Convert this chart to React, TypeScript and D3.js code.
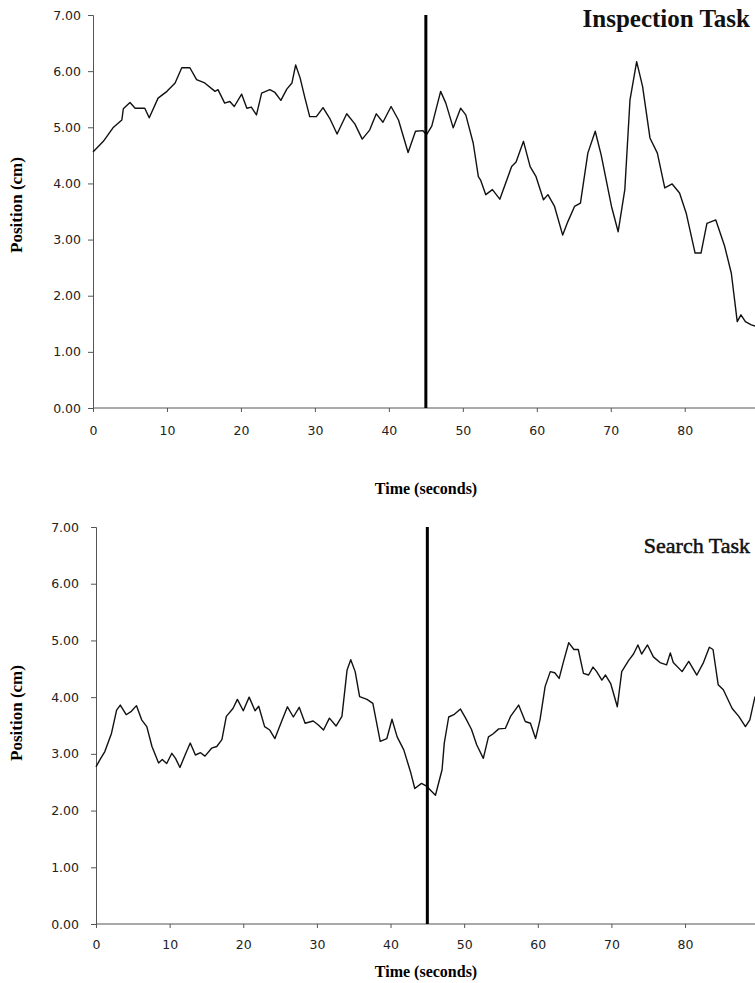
import React, { useEffect, useRef } from 'react';
import * as d3 from 'd3';

// Inspection task trace (seconds, cm)
const inspectionTime = [
  0, 1.4, 2.7, 3.9, 4.1, 5.0, 5.7, 7.0, 7.6, 8.8, 10.0, 11.1, 12.0, 13.1, 14.0, 15.1, 16.5, 16.9,
  17.8, 18.5, 19.1, 20.1, 20.8, 21.4, 22.1, 22.8, 23.9, 24.6, 25.4, 26.2, 26.9, 27.4, 28.0, 28.6,
  29.3, 30.2, 31.1, 32.0, 33.0, 34.3, 35.4, 36.4, 37.4, 38.3, 39.2, 40.3, 41.3, 42.6, 43.6, 44.6,
  45.1, 45.8, 47.0, 47.7, 48.7, 49.7, 50.4, 51.4, 52.1, 52.4, 53.1, 54.0, 55.0, 56.6, 57.2, 58.2,
  59.1, 59.9, 60.9, 61.5, 62.4, 63.5, 64.2, 65.1, 65.9, 66.9, 67.9, 68.7, 70.1, 71.0, 71.9, 72.6,
  73.5, 74.3, 75.3, 76.3, 77.3, 78.3, 79.3, 80.2, 81.4, 82.2, 83.0, 84.2, 85.4, 86.3, 87.1, 87.6,
  88.2, 89.0, 89.5,
];
const inspectionPos = [
  4.56, 4.75, 4.99, 5.13, 5.33, 5.44, 5.34, 5.34, 5.17, 5.52, 5.64, 5.79, 6.06, 6.06, 5.85, 5.79,
  5.64, 5.67, 5.43, 5.46, 5.37, 5.59, 5.34, 5.36, 5.22, 5.61, 5.67, 5.62, 5.48, 5.68, 5.79, 6.11,
  5.88, 5.55, 5.19, 5.19, 5.35, 5.16, 4.88, 5.24, 5.06, 4.79, 4.95, 5.24, 5.09, 5.37, 5.13, 4.55,
  4.93, 4.94, 4.87, 5.02, 5.64, 5.43, 4.99, 5.34, 5.22, 4.72, 4.12, 4.06, 3.80, 3.89, 3.72, 4.30,
  4.38, 4.75, 4.30, 4.12, 3.71, 3.80, 3.59, 3.08, 3.32, 3.59, 3.65, 4.54, 4.93, 4.51, 3.59, 3.14,
  3.89, 5.49, 6.17, 5.73, 4.81, 4.54, 3.92, 3.99, 3.83, 3.47, 2.76, 2.76, 3.29, 3.35, 2.88, 2.40,
  1.54, 1.66, 1.54, 1.48, 1.46,
];

// Search task trace (seconds, cm)
const searchTime = [
  0, 0.5, 1.2, 2.1, 2.8, 3.3, 4.1, 4.8, 5.5, 6.2, 6.9, 7.6, 8.5, 9.0, 9.6, 10.3, 10.8, 11.4, 12.1,
  12.8, 13.5, 14.2, 14.8, 15.7, 16.4, 17.1, 17.7, 18.6, 19.2, 20.0, 20.8, 21.6, 22.1, 22.9, 23.6,
  24.3, 25.2, 26.0, 26.8, 27.6, 28.4, 29.5, 30.2, 30.9, 31.7, 32.6, 33.4, 34.1, 34.6, 35.2, 35.8,
  36.8, 37.6, 38.6, 39.5, 40.2, 40.9, 41.8, 42.7, 43.3, 44.2, 44.9, 45.5, 46.1, 47.0, 47.3, 47.9,
  48.6, 49.5, 50.2, 51.0, 51.7, 52.6, 53.3, 53.9, 54.7, 55.6, 56.3, 57.4, 58.3, 59.0, 59.7, 60.3,
  61.0, 61.7, 62.3, 62.9, 63.5, 64.2, 64.9, 65.5, 66.2, 66.9, 67.5, 68.0, 68.7, 69.2, 69.9, 70.8,
  71.4, 72.3, 73.0, 73.6, 74.1, 74.9, 75.7, 76.6, 77.5, 78.0, 78.4, 79.6, 80.5, 81.6, 82.5, 83.3,
  83.8, 84.5, 85.2, 86.4, 87.3, 88.2, 88.8, 89.5,
];
const searchPos = [
  2.77, 2.89, 3.04, 3.36, 3.77, 3.86, 3.69, 3.75, 3.85, 3.60, 3.48, 3.13, 2.84, 2.90, 2.83, 3.01,
  2.92, 2.76, 2.98, 3.19, 2.98, 3.02, 2.96, 3.10, 3.13, 3.25, 3.66, 3.80, 3.96, 3.76, 4.00, 3.76,
  3.84, 3.48, 3.42, 3.27, 3.57, 3.83, 3.65, 3.82, 3.54, 3.58, 3.51, 3.42, 3.63, 3.49, 3.66, 4.48,
  4.66, 4.45, 4.01, 3.96, 3.89, 3.22, 3.27, 3.61, 3.30, 3.07, 2.69, 2.39, 2.48, 2.43, 2.35, 2.27,
  2.72, 3.19, 3.65, 3.69, 3.79, 3.63, 3.43, 3.16, 2.92, 3.30, 3.35, 3.44, 3.45, 3.66, 3.86, 3.57,
  3.54, 3.27, 3.60, 4.19, 4.45, 4.43, 4.33, 4.63, 4.96, 4.84, 4.84, 4.42, 4.39, 4.53, 4.45, 4.30,
  4.39, 4.24, 3.83, 4.45, 4.64, 4.76, 4.92, 4.76, 4.92, 4.71, 4.61, 4.57, 4.78, 4.61, 4.45, 4.63,
  4.39, 4.61, 4.88, 4.84, 4.22, 4.13, 3.80, 3.66, 3.48, 3.60, 4.01,
];

const yTicks = [0, 1, 2, 3, 4, 5, 6, 7];
const xTicks = [0, 10, 20, 30, 40, 50, 60, 70, 80];
const switchTime = 45;

const panels = [
  {
    title: 'Inspection Task', titleSize: 25, titleWeight: 'bold', titleY: 27,
    time: inspectionTime, pos: inspectionPos, left: 93, top: 15, bottom: 408,
    yPad: 7, xPad: 14, xLabelY: 494, yLabelY: 205,
  },
  {
    title: 'Search Task', titleSize: 22, titleWeight: 'normal', titleY: 553,
    time: searchTime, pos: searchPos, left: 96, top: 527, bottom: 924,
    yPad: 12, xPad: 12, xLabelY: 977, yLabelY: 713,
  },
];

const App = () => {
  const svgRef = useRef<SVGSVGElement>(null);

  useEffect(() => {
    const svg = d3.select(svgRef.current);
    svg.selectAll('*').remove();

    panels.forEach(p => {
      const x = d3.scaleLinear().domain([0, 89.5]).range([p.left, 755]);
      const y = d3.scaleLinear().domain([0, 7]).range([p.bottom, p.top]);
      const g = svg.append('g');

      const yAxis = g.append('g')
        .attr('transform', `translate(${p.left},0)`)
        .call(d3.axisLeft(y).tickValues(yTicks).tickFormat(d3.format('.2f')).tickSize(5).tickPadding(p.yPad));
      const xAxis = g.append('g')
        .attr('transform', `translate(0,${p.bottom})`)
        .call(d3.axisBottom(x).tickValues(xTicks).tickSize(4).tickPadding(p.xPad));

      [yAxis, xAxis].forEach(a => {
        a.select('.domain').attr('stroke', '#555').attr('stroke-width', 1);
        a.selectAll('.tick line').attr('stroke', '#555');
        a.selectAll('.tick text')
          .attr('fill', '#222')
          .style('font-family', '"DejaVu Sans", sans-serif')
          .style('font-size', '12.5px');
      });
      // x axis line runs past the last tick to the page edge
      xAxis.select('.domain').attr('d', `M${p.left},0H755`);

      const line = d3.line<number>()
        .x((_, i) => x(p.time[i]))
        .y(d => y(d));

      g.append('path')
        .datum(p.pos)
        .attr('d', line)
        .attr('fill', 'none')
        .attr('stroke', '#111')
        .attr('stroke-width', 1.4)
        .attr('stroke-linejoin', 'round');

      g.append('line')
        .attr('x1', x(switchTime))
        .attr('x2', x(switchTime))
        .attr('y1', y(7))
        .attr('y2', y(0))
        .attr('stroke', '#000')
        .attr('stroke-width', 3);

      g.append('text')
        .attr('x', 750)
        .attr('y', p.titleY)
        .attr('text-anchor', 'end')
        .text(p.title)
        .attr('fill', '#111')
        .attr('stroke', '#111')
        .attr('stroke-width', p.titleWeight === 'bold' ? 0 : 0.5)
        .style('font-family', '"Liberation Serif", serif')
        .style('font-size', `${p.titleSize}px`)
        .style('font-weight', p.titleWeight);

      g.append('text')
        .attr('transform', `translate(22,${p.yLabelY}) rotate(-90)`)
        .attr('text-anchor', 'middle')
        .text('Position (cm)')
        .style('font-family', '"Liberation Serif", serif')
        .style('font-size', '17px')
        .style('font-weight', 'bold');

      g.append('text')
        .attr('x', 426)
        .attr('y', p.xLabelY)
        .attr('text-anchor', 'middle')
        .text('Time (seconds)')
        .style('font-family', '"Liberation Serif", serif')
        .style('font-size', '16px')
        .style('font-weight', 'bold');
    });
  }, []);

  return (
    <svg
      ref={svgRef}
      width={755}
      height={983}
      style={{ position: 'absolute', left: 0, top: 0, background: '#fff' }}
    />
  );
};

export default App;
